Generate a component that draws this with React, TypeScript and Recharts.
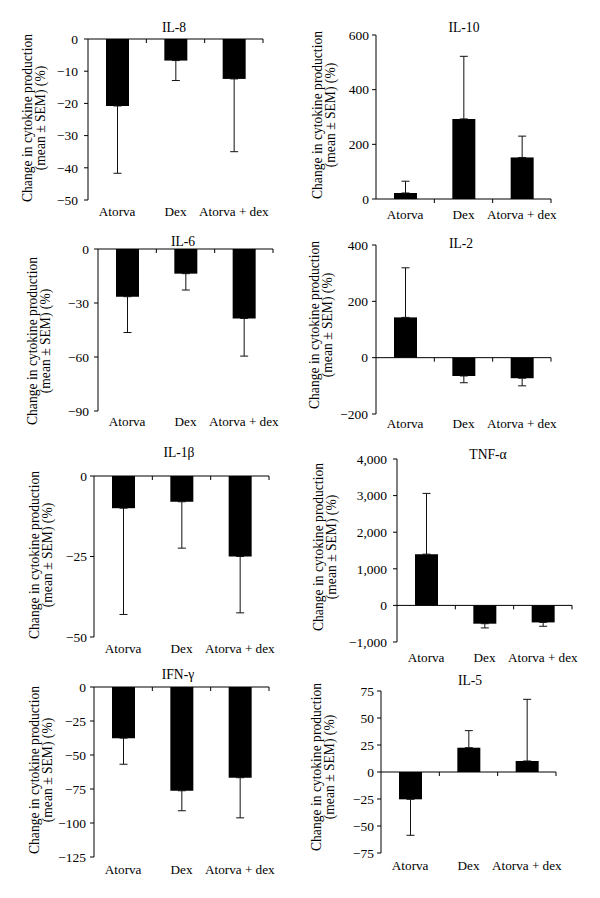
import { BarChart, Bar, XAxis, YAxis, ErrorBar, ReferenceLine } from "recharts";

const FONT = '"Liberation Serif", "Times New Roman", serif';

const categories = ["Atorva", "Dex", "Atorva + dex"];

const il8Mean = [-20.8, -6.7, -12.4];
const il8Sem = [20.9, 6.2, 22.6];
const il8Ticks = [0, -10, -20, -30, -40, -50];

const il10Mean = [22, 293, 152];
const il10Sem = [43, 229, 78];
const il10Ticks = [0, 200, 400, 600];

const il6Mean = [-26.5, -13.7, -38.6];
const il6Sem = [19.9, 9.1, 20.9];
const il6Ticks = [0, -30, -60, -90];

const il2Mean = [143, -65, -73];
const il2Sem = [176, 24, 27];
const il2Ticks = [400, 200, 0, -200];

const il1bMean = [-10, -8, -25];
const il1bSem = [33, 14.4, 17.5];
const il1bTicks = [0, -25, -50];

const tnfMean = [1400, -500, -465];
const tnfSem = [1660, 115, 105];
const tnfTicks = [4000, 3000, 2000, 1000, 0, -1000];

const ifngMean = [-37.6, -76.3, -66.7];
const ifngSem = [19.2, 14.7, 29.5];
const ifngTicks = [0, -25, -50, -75, -100, -125];

const il5Mean = [-25.3, 22.5, 10.2];
const il5Sem = [33.3, 15.8, 57.1];
const il5Ticks = [75, 50, 25, 0, -25, -50, -75];

// layout of each panel on the page (plot box + text offsets)
const panels = [
  { title: "IL-8", mean: il8Mean, sem: il8Sem, ticks: il8Ticks, axisX: 88, top: 39, bottom: 200, tickGap: 10, catGap: 7, labelGap: 60, labelY: 118, titleX: 174, titleY: 32 },
  { title: "IL-10", mean: il10Mean, sem: il10Sem, ticks: il10Ticks, axisX: 376, top: 35, bottom: 199, tickGap: 7, catGap: 11, labelGap: 58, labelY: 115, titleX: 464, titleY: 32 },
  { title: "IL-6", mean: il6Mean, sem: il6Sem, ticks: il6Ticks, axisX: 98, top: 249, bottom: 411, tickGap: 9, catGap: 6, labelGap: 65, labelY: 341, titleX: 183, titleY: 246 },
  { title: "IL-2", mean: il2Mean, sem: il2Sem, ticks: il2Ticks, axisX: 376, top: 245, bottom: 414, tickGap: 8, catGap: 5, labelGap: 61, labelY: 325, titleX: 461, titleY: 248 },
  { title: "IL-1β", mean: il1bMean, sem: il1bSem, ticks: il1bTicks, axisX: 94, top: 476, bottom: 637, tickGap: 7, catGap: 6.5, labelGap: 59, labelY: 555, titleX: 179, titleY: 457 },
  { title: "TNF-α", mean: tnfMean, sem: tnfSem, ticks: tnfTicks, axisX: 397, top: 459, bottom: 642, tickGap: 10, catGap: 11, labelGap: 78, labelY: 547, titleX: 488, titleY: 459 },
  { title: "IFN-γ", mean: ifngMean, sem: ifngSem, ticks: ifngTicks, axisX: 94, top: 687, bottom: 857, tickGap: 8, catGap: 8, labelGap: 59, labelY: 770, titleX: 178, titleY: 679 },
  { title: "IL-5", mean: il5Mean, sem: il5Sem, ticks: il5Ticks, axisX: 381, top: 691, bottom: 853, tickGap: 7, catGap: 8, labelGap: 64, labelY: 767, titleX: 470, titleY: 685 },
];

const YW = 80;
const MT = 10;
const MR = 8;
const XH = 30;
const PW = 175;
const LINE_GAP = 13;

const fmt = (v: number) => (v < 0 ? "\u2212" : "") + Math.abs(v).toLocaleString("en-US");

const tickStyle = { fill: "#000", fontSize: 13.5, fontFamily: FONT };
const catStyle = { fill: "#000", fontSize: 13.2, fontFamily: FONT };

// zero line with small ticks at the category boundaries
function ZeroAxis(props: any) {
  const { x1, y1, x2 } = props;
  const step = (x2 - x1) / categories.length;
  return (
    <g>
      <line x1={x1} y1={y1} x2={x2} y2={y1} stroke="#000" strokeWidth={1} />
      {categories.map((_, i) => (
        <line key={i} x1={x1 + step * (i + 1)} x2={x1 + step * (i + 1)} y1={y1} y2={y1 + 4} stroke="#000" strokeWidth={1} />
      ))}
    </g>
  );
}

function CytokinePanel({ p }: { p: (typeof panels)[number] }) {
  const rows = categories.map((name, i) => ({
    name,
    value: p.mean[i],
    err: p.mean[i] < 0 ? [p.sem[i], 0] : [0, p.sem[i]],
  }));
  const lo = Math.min(...p.ticks);
  const hi = Math.max(...p.ticks);
  return (
    <div style={{ position: "absolute", left: p.axisX - YW, top: p.top - MT }}>
      <BarChart
        width={YW + PW + MR}
        height={MT + (p.bottom - p.top) + XH}
        data={rows}
        margin={{ top: MT, right: MR, bottom: 0, left: 0 }}
      >
        <XAxis
          dataKey="name"
          axisLine={false}
          tickLine={false}
          tickSize={0}
          tickMargin={p.catGap}
          height={XH}
          interval={0}
          tick={catStyle}
        />
        <YAxis
          type="number"
          domain={[lo, hi]}
          ticks={p.ticks}
          allowDataOverflow
          interval={0}
          width={YW}
          stroke="#000"
          tickSize={4}
          tickMargin={p.tickGap - 4}
          tick={tickStyle}
          tickFormatter={fmt}
        />
        <ReferenceLine y={0} stroke="#000" shape={ZeroAxis} />
        <Bar dataKey="value" fill="#000" barSize={23} isAnimationActive={false}>
          <ErrorBar dataKey="err" width={4} stroke="#111" strokeWidth={1} isAnimationActive={false} />
        </Bar>
      </BarChart>
    </div>
  );
}

export default function App() {
  return (
    <div style={{ position: "absolute", left: 0, top: 0, width: 600, height: 898, background: "#fff" }}>
      {panels.map((p) => (
        <CytokinePanel key={p.title} p={p} />
      ))}
      <svg width={600} height={898} style={{ position: "absolute", left: 0, top: 0, pointerEvents: "none" }}>
        {panels.map((p) => (
          <g key={p.title} fontFamily={FONT} fontSize={13.6} fill="#000">
            <text x={p.titleX} y={p.titleY} textAnchor="middle">
              {p.title}
            </text>
            <text
              transform={`translate(${p.axisX - p.labelGap - 0.5}, ${p.labelY}) rotate(-90)`}
              textAnchor="middle"
              dominantBaseline="central"
            >
              Change in cytokine production
            </text>
            <text
              transform={`translate(${p.axisX - p.labelGap - 0.5 + LINE_GAP}, ${p.labelY}) rotate(-90)`}
              textAnchor="middle"
              dominantBaseline="central"
            >
              (mean ± SEM) (%)
            </text>
          </g>
        ))}
      </svg>
    </div>
  );
}
